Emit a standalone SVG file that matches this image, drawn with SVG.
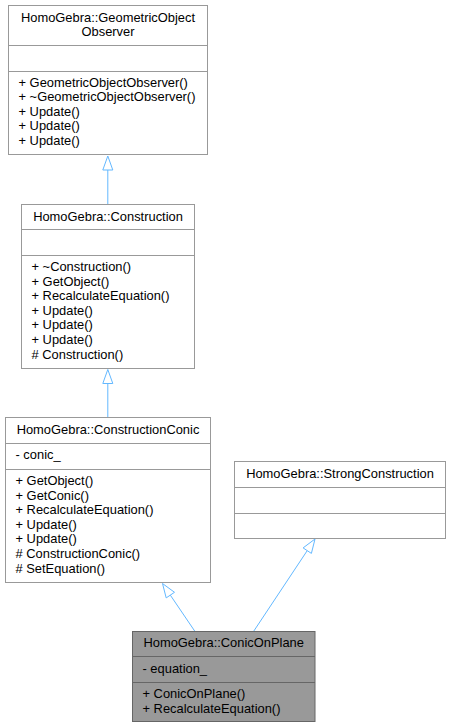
<svg xmlns="http://www.w3.org/2000/svg" width="451" height="728" viewBox="0 0 451 728">
<style>
  .box { fill: #ffffff; stroke: #999999; stroke-width: 1; }
  .hl { fill: #999999; stroke: #666666; stroke-width: 1; }
  .div { stroke: #999999; stroke-width: 1; }
  .divh { stroke: #666666; stroke-width: 1; }
  text { font-family: "Liberation Sans", Arial, sans-serif; font-size: 12.9px; fill: #000000; }
  .c { text-anchor: middle; }
  .edge { stroke: #63b8ff; stroke-width: 1; fill: none; }
  .head { stroke: #63b8ff; stroke-width: 1; fill: #ffffff; }
</style>
<rect width="451" height="728" fill="#ffffff"/>

<g id="connectors">
  <line class="edge" x1="107.8" y1="204.5" x2="107.8" y2="170"/>
  <polygon class="head" points="107.8,156 102.8,170 112.8,170"/>
  <line class="edge" x1="107.8" y1="417.5" x2="107.8" y2="383.5"/>
  <polygon class="head" points="107.8,369.5 102.8,383.5 112.8,383.5"/>
  <line class="edge" x1="195" y1="631.5" x2="170.3" y2="595.1"/>
  <polygon class="head" points="162.5,583.5 166.2,597.9 174.5,592.3"/>
  <line class="edge" x1="253.5" y1="631.5" x2="307.2" y2="550.7"/>
  <polygon class="head" points="315,539 311.4,553.4 303.1,547.9"/>
</g>

<g id="GeometricObjectObserver">
  <rect class="box" x="8.5" y="5.5" width="199" height="149"/>
  <line class="div" x1="8.5" y1="45.5" x2="207.5" y2="45.5"/>
  <line class="div" x1="8.5" y1="71.5" x2="207.5" y2="71.5"/>
  <text class="c" x="108" y="21.5">HomoGebra::GeometricObject</text>
  <text class="c" x="108" y="36.2">Observer</text>
  <text x="18.5" y="86.5">+ GeometricObjectObserver()</text>
  <text x="18.5" y="101.1">+ ~GeometricObjectObserver()</text>
  <text x="18.5" y="115.7">+ Update()</text>
  <text x="18.5" y="130.3">+ Update()</text>
  <text x="18.5" y="144.9">+ Update()</text>
</g>

<g id="Construction">
  <rect class="box" x="21.5" y="204.5" width="173" height="164"/>
  <line class="div" x1="21.5" y1="229.5" x2="194.5" y2="229.5"/>
  <line class="div" x1="21.5" y1="255.5" x2="194.5" y2="255.5"/>
  <text class="c" x="108" y="220.5">HomoGebra::Construction</text>
  <text x="31.5" y="271">+ ~Construction()</text>
  <text x="31.5" y="285.6">+ GetObject()</text>
  <text x="31.5" y="300.2">+ RecalculateEquation()</text>
  <text x="31.5" y="314.8">+ Update()</text>
  <text x="31.5" y="329.4">+ Update()</text>
  <text x="31.5" y="344">+ Update()</text>
  <text x="31.5" y="358.6"># Construction()</text>
</g>

<g id="ConstructionConic">
  <rect class="box" x="5.5" y="417.5" width="205" height="165"/>
  <line class="div" x1="5.5" y1="443.5" x2="210.5" y2="443.5"/>
  <line class="div" x1="5.5" y1="469.5" x2="210.5" y2="469.5"/>
  <text class="c" x="108" y="433.5">HomoGebra::ConstructionConic</text>
  <text x="15.5" y="459">- conic_</text>
  <text x="15.5" y="485">+ GetObject()</text>
  <text x="15.5" y="499.6">+ GetConic()</text>
  <text x="15.5" y="514.2">+ RecalculateEquation()</text>
  <text x="15.5" y="528.8">+ Update()</text>
  <text x="15.5" y="543.4">+ Update()</text>
  <text x="15.5" y="558"># ConstructionConic()</text>
  <text x="15.5" y="572.6"># SetEquation()</text>
</g>

<g id="StrongConstruction">
  <rect class="box" x="234.5" y="461.5" width="211" height="77"/>
  <line class="div" x1="234.5" y1="487.5" x2="445.5" y2="487.5"/>
  <line class="div" x1="234.5" y1="513.5" x2="445.5" y2="513.5"/>
  <text class="c" x="340" y="477.5">HomoGebra::StrongConstruction</text>
</g>

<g id="ConicOnPlane">
  <rect class="hl" x="132.5" y="631.5" width="182.5" height="90"/>
  <line class="divh" x1="132.5" y1="656.5" x2="315" y2="656.5"/>
  <line class="divh" x1="132.5" y1="682.5" x2="315" y2="682.5"/>
  <text class="c" x="223.7" y="647">HomoGebra::ConicOnPlane</text>
  <text x="142.5" y="672.5">- equation_</text>
  <text x="142.5" y="698">+ ConicOnPlane()</text>
  <text x="142.5" y="712.6">+ RecalculateEquation()</text>
</g>
</svg>
